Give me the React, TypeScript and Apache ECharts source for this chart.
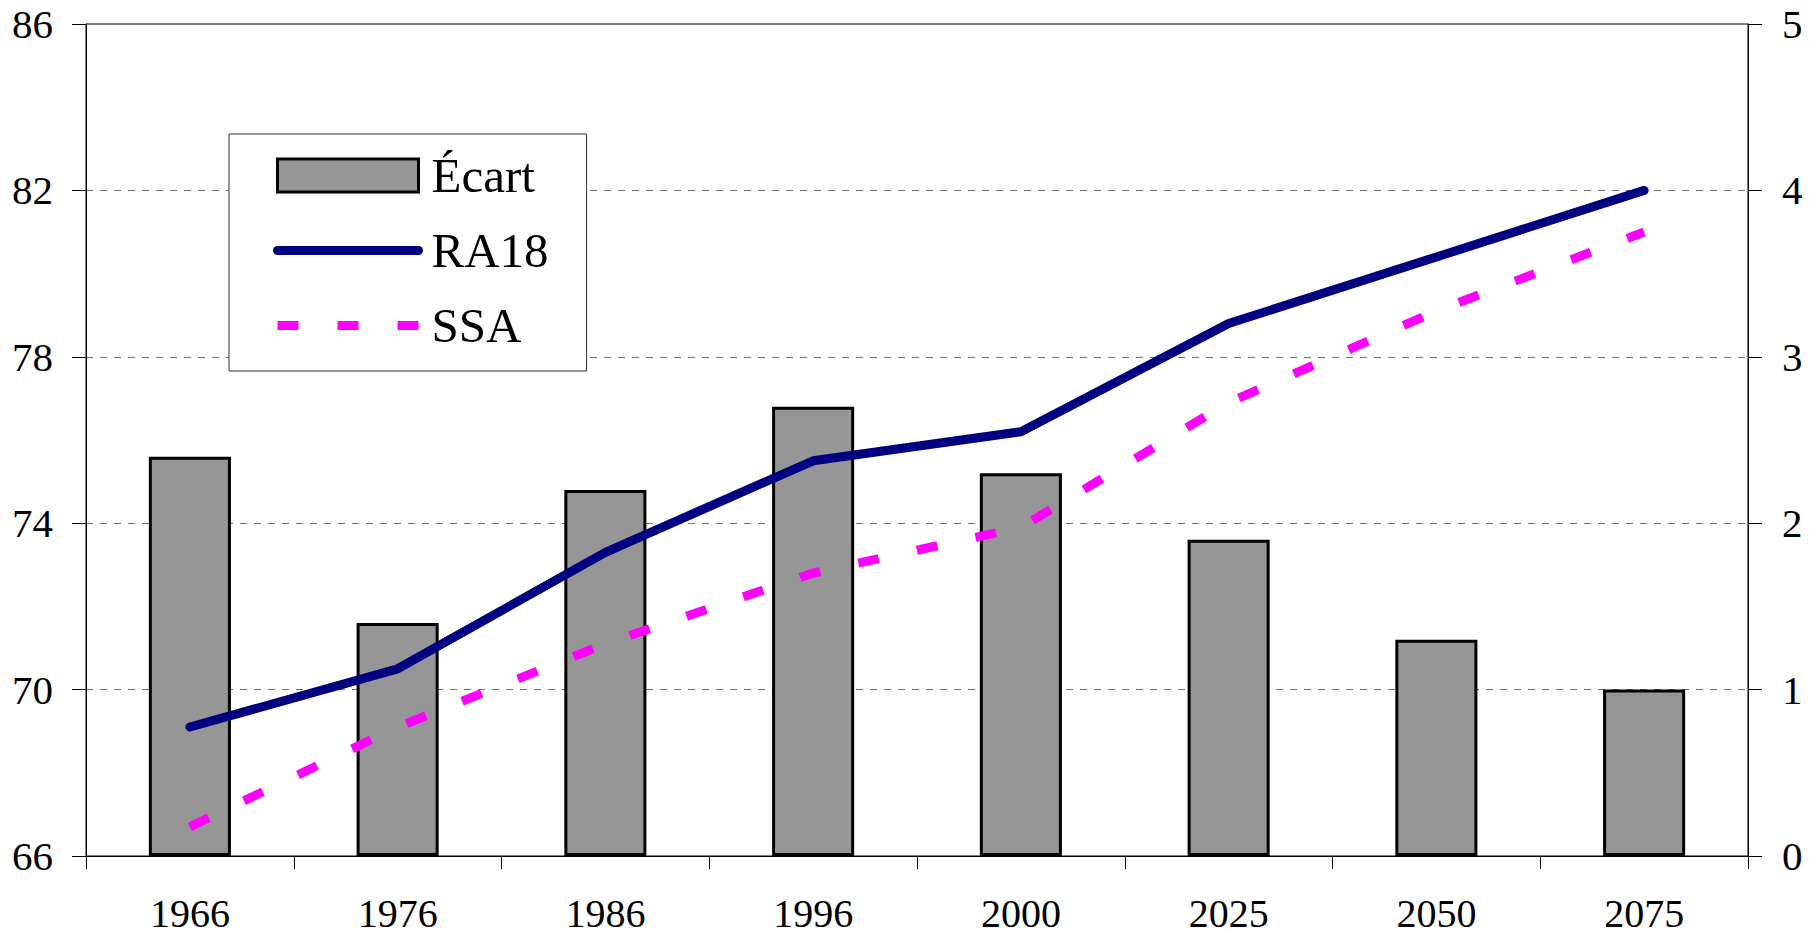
import React, { useEffect, useRef } from "react";
import * as echarts from "echarts";

const categories = ["1966", "1976", "1986", "1996", "2000", "2025", "2050", "2075"];
const ecartValues = [2.4, 1.4, 2.2, 2.7, 2.3, 1.9, 1.3, 1.0];
const ra18Values = [69.1, 70.5, 73.3, 75.5, 76.2, 78.8, 80.4, 82.0];
const ssaValues = [66.7, 69.1, 71.1, 72.8, 73.9, 76.9, 79.1, 81.0];
const leftTicks = { min: 66, max: 86, interval: 4 };
const rightTicks = { min: 0, max: 5, interval: 1 };

const FONT = "Liberation Serif";

export default function App() {
  const ref = useRef<HTMLDivElement>(null);
  useEffect(() => {
    if (!ref.current) return;
    const chart = echarts.init(ref.current, undefined, { renderer: "svg" });
    chart.setOption({
      animation: false,
      backgroundColor: "#ffffff",
      textStyle: { fontFamily: FONT, color: "#000" },
      grid: {
        left: 86,
        top: 24,
        right: 61,
        bottom: 81,
        show: true,
        borderColor: "#000",
        borderWidth: 1,
        backgroundColor: "transparent",
      },
      legend: {
        orient: "vertical",
        left: 229,
        top: 134,
        padding: [17, 38, 21, 44],
        itemWidth: 141,
        itemHeight: 33,
        itemGap: 26,
        backgroundColor: "#fff",
        borderColor: "#333",
        borderWidth: 1,
        textStyle: {
          fontFamily: FONT,
          fontSize: 49,
          color: "#000",
          lineHeight: 48,
          padding: [0, 0, 0, 8],
        },
        data: [
          {
            name: "Écart",
            icon: "rect",
            itemStyle: { color: "#969696", borderColor: "#000", borderWidth: 3 },
          },
          {
            name: "RA18",
            itemStyle: { opacity: 0 },
            lineStyle: { width: 9, color: "#000080", cap: "round", type: "solid", opacity: 1 },
          },
          {
            name: "SSA",
            itemStyle: { opacity: 0 },
            lineStyle: { width: 9, color: "#FF00FF", cap: "butt", type: [21, 39], opacity: 1 },
          },
        ],
      },
      xAxis: {
        type: "category",
        data: categories,
        boundaryGap: true,
        axisLine: { show: true, lineStyle: { color: "#000", width: 1 } },
        axisTick: { show: true, length: 13, interval: 0, lineStyle: { color: "#000", width: 1 } },
        axisLabel: {
          fontFamily: FONT,
          fontSize: 40,
          lineHeight: 34,
          color: "#000",
          margin: 40,
          interval: 0,
        },
        splitLine: { show: false },
      },
      yAxis: [
        {
          type: "value",
          position: "left",
          min: leftTicks.min,
          max: leftTicks.max,
          interval: leftTicks.interval,
          axisLine: { show: true, lineStyle: { color: "#000", width: 1 } },
          axisTick: { show: true, length: 14, lineStyle: { color: "#000", width: 1 } },
          axisLabel: { fontFamily: FONT, fontSize: 41, color: "#000", margin: 33 },
          splitLine: {
            show: true,
            showMinLine: false,
            showMaxLine: false,
            lineStyle: { color: "#707070", width: 1, type: [7, 7] },
          },
        },
        {
          type: "value",
          position: "right",
          min: rightTicks.min,
          max: rightTicks.max,
          interval: rightTicks.interval,
          axisLine: { show: true, lineStyle: { color: "#000", width: 1 } },
          axisTick: { show: true, length: 14, lineStyle: { color: "#000", width: 1 } },
          axisLabel: { fontFamily: FONT, fontSize: 41, color: "#000", margin: 34 },
          splitLine: { show: false },
        },
      ],
      series: [
        {
          name: "Écart",
          type: "bar",
          yAxisIndex: 1,
          data: ecartValues,
          barWidth: "39.5%",
          itemStyle: { color: "#969696", borderColor: "#000", borderWidth: 3 },
        },
        {
          name: "RA18",
          type: "line",
          yAxisIndex: 0,
          data: ra18Values,
          symbol: "none",
          lineStyle: { color: "#000080", width: 9, cap: "round", join: "round" },
          itemStyle: { color: "#000080" },
        },
        {
          name: "SSA",
          type: "line",
          yAxisIndex: 0,
          data: ssaValues,
          symbol: "none",
          lineStyle: { color: "#FF00FF", width: 9, type: [21, 39], cap: "butt", join: "miter" },
          itemStyle: { color: "#FF00FF" },
        },
      ],
    });
    return () => chart.dispose();
  }, []);
  return (
    <div
      ref={ref}
      style={{ position: "fixed", left: 0, top: 0, width: 1809, height: 937, background: "#fff" }}
    />
  );
}
